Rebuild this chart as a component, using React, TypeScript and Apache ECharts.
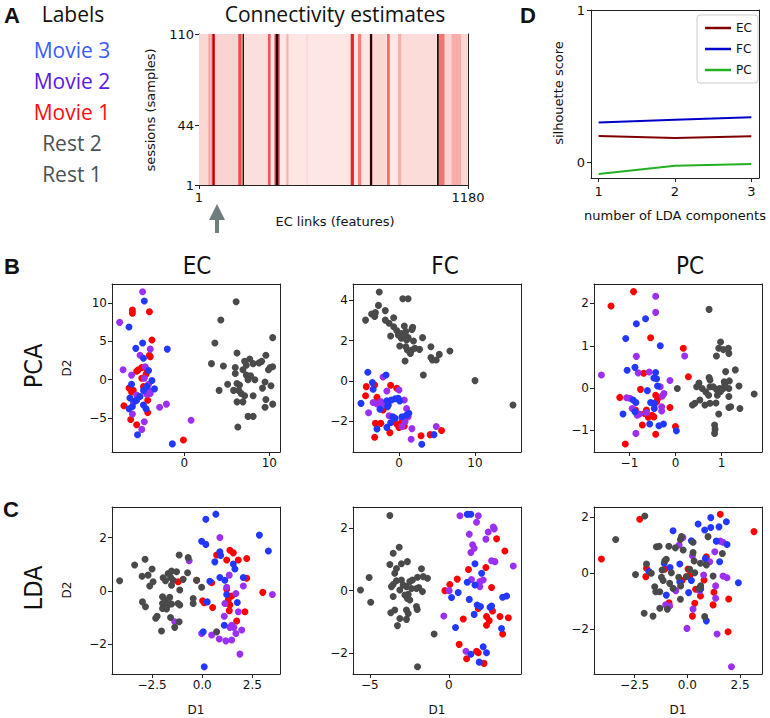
import React, { useEffect, useRef } from 'react';
import * as echarts from 'echarts';

// ---------- Panel A: connectivity estimates (column bands: [startFeature, endFeature, level]) ----------
const featureTicks = [1, 1180];
const sessionTicks = [1, 44, 110];
const ecBands: number[][] = [
  [1, 1180, 0.09],
  [1, 42, 0.18],
  [42, 52, 0.34],
  [56, 72, 0.55],
  [63, 68, 0.85],
  [72, 173, 0.2],
  [173, 188, 0.52],
  [192, 198, 1.0],
  [199, 300, 0.13],
  [303, 315, 0.5],
  [332, 337, 0.58],
  [337, 350, 1.0],
  [350, 354, 0.58],
  [384, 393, 0.3],
  [470, 480, 0.16],
  [666, 680, 0.6],
  [698, 712, 0.42],
  [750, 761, 1.0],
  [762, 820, 0.18],
  [825, 837, 0.46],
  [873, 888, 0.3],
  [890, 1040, 0.15],
  [1044, 1052, 1.0],
  [1053, 1078, 0.44],
  [1078, 1105, 0.2],
  [1107, 1151, 0.3],
  [1151, 1180, 0.17],
];
const labelNames = ['Movie 3', 'Movie 2', 'Movie 1', 'Rest 2', 'Rest 1'];

// ---------- Panel D: silhouette scores ----------
const ldaComponents = [1, 2, 3];
const silhouetteEC = [0.175, 0.162, 0.173];
const silhouetteFC = [0.263, 0.281, 0.298];
const silhouettePC = [-0.074, -0.02, -0.009];

// ---------- Panel B: PCA ----------
const pcaEC_rest = [[6.1,10.2],[4.3,7.8],[3.6,4.8],[6.2,3.5],[3.2,2.1],[4.6,1.8],[6.0,1.6],[7.1,2.4],[7.7,2.7],[7.3,1.9],[8.1,2.1],[8.8,2.2],[6.0,0.8],[6.9,1.3],[7.3,0.6],[7.8,0.5],[8.3,0.0],[5.1,-0.6],[6.2,-0.5],[6.5,-0.7],[4.1,-1.4],[5.8,-1.4],[6.4,-1.4],[6.7,-1.8],[7.1,-2.1],[8.1,-2.1],[6.2,-2.9],[6.9,-2.9],[7.5,-4.8],[8.1,-4.8],[6.3,-6.2],[10.4,5.5],[9.6,3.2],[9.1,2.4],[10.1,1.6],[10.4,1.7],[9.9,1.3],[9.5,-0.3],[9.2,-1.1],[10.2,-0.8],[9.6,-2.6],[9.5,-3.6],[10.4,-3.2],[7.5,0.0]];
const pcaEC_movie1 = [[-6.1,9.1],[-6.1,8.7],[-4.1,8.9],[-3.8,5.2],[-4.1,3.2],[-4.0,3.0],[-5.6,1.1],[-5.0,1.6],[-4.5,0.7],[-5.0,0.2],[-6.5,-1.1],[-6.2,-1.6],[-4.3,-2.7],[-7.1,-3.4],[-4.3,-4.3],[-6.3,-5.2],[-5.6,-5.9],[-0.1,-7.9],[-4.8,-0.9],[-5.4,1.3],[-4.4,1.3],[-6.0,-1.4]];
const pcaEC_movie2 = [[-4.9,11.5],[-7.6,7.5],[-4.0,4.0],[-5.2,3.2],[-7.2,1.3],[-6.2,0.6],[-4.7,0.2],[-4.2,-0.6],[-5.6,-2.0],[-4.4,-1.9],[-4.0,-1.8],[-2.9,-3.6],[-2.1,-3.2],[-6.1,-4.5],[-4.7,-5.5],[-5.0,-6.5],[0.8,-5.3],[-4.6,1.7],[-6.0,-2.9],[-4.2,-1.4]];
const pcaEC_movie3 = [[-4.7,10.3],[-6.5,6.9],[-4.9,4.8],[-5.7,4.1],[-4.8,2.8],[-2.0,4.0],[-4.2,1.2],[-3.8,-0.1],[-6.2,-0.6],[-3.5,-1.2],[-4.8,-1.4],[-6.4,-2.4],[-5.2,-2.2],[-5.8,-2.8],[-6.1,-3.5],[-6.5,-3.8],[-4.8,-3.3],[-4.5,-3.8],[-5.5,-7.2],[-1.4,-8.4],[-5.6,-2.7],[-4.4,-0.9]];

const pcaFC_rest = [[-2.6,4.41],[0.5,4.08],[1.2,4.08],[-4.4,3.02],[-3.6,3.32],[-3.1,3.39],[-2.7,3.75],[-3.2,3.2],[-1.8,3.49],[-1.8,3.02],[-1.3,2.86],[-0.7,3.14],[-0.7,2.69],[-1.1,2.23],[-0.3,2.5],[-0.1,2.28],[0.3,2.36],[0.7,2.73],[0.9,2.45],[0.3,2.12],[0.1,1.74],[1.0,2.03],[1.2,2.15],[1.7,2.56],[1.8,2.66],[1.9,1.98],[0.9,1.7],[1.1,1.54],[1.7,1.54],[2.1,1.62],[2.7,1.57],[3.1,2.15],[4.2,1.7],[4.2,1.17],[4.4,1.04],[4.9,1.04],[5.3,1.32],[6.7,1.49],[0.8,0.99],[3.2,0.3],[10.0,0.02],[1.5,1.37],[15.0,-1.19],[0.6,2.2]];
const pcaFC_movie1 = [[-4.3,-0.28],[-3.2,-0.2],[-4.4,-0.73],[-2.9,-0.81],[-1.1,-0.21],[-0.3,-0.36],[-2.1,-1.44],[-1.6,-1.24],[-3.1,-2.1],[-2.4,-2.1],[-1.2,-2.56],[-0.3,-2.13],[0.0,-2.3],[0.7,-2.23],[-3.2,-2.79],[2.9,-2.71],[4.1,-2.66],[5.6,-2.45],[-2.4,-1.14],[-0.7,-2.0],[-2.0,-1.35],[0.4,-2.0]];
const pcaFC_movie2 = [[-2.1,0.2],[-1.6,-0.5],[0.0,-0.45],[-3.4,-1.07],[-2.9,-1.14],[-2.4,-1.02],[-4.0,-1.57],[0.7,-0.94],[1.0,-1.36],[1.2,-1.77],[-1.3,-1.72],[0.4,-2.26],[1.7,-2.36],[1.6,-2.89],[4.9,-2.26],[-2.1,-1.19],[0.8,-2.02]];
const pcaFC_movie3 = [[-4.1,0.43],[-1.7,0.3],[-3.5,-0.08],[-3.4,-0.41],[-5.0,-1.11],[-1.6,-0.98],[-1.4,-1.19],[-1.0,-0.94],[-0.5,-0.88],[-0.1,-0.86],[0.1,-0.99],[-2.5,-1.4],[-1.5,-1.27],[-0.8,-1.77],[-0.5,-1.85],[-1.1,-2.07],[0.4,-1.77],[1.0,-1.69],[1.3,-1.6],[-1.6,-2.3],[-2.9,-2.38],[3.0,-3.14],[4.6,-2.66]];

const pcaPC_rest = [[0.73,1.86],[0.98,1.09],[0.94,0.94],[1.04,0.91],[1.15,0.94],[1.16,0.82],[0.89,0.76],[1.3,0.43],[1.09,0.39],[1.17,0.17],[1.06,0.15],[0.73,0.25],[0.75,0.19],[0.51,0.12],[0.58,-0.01],[0.66,-0.09],[0.72,-0.17],[0.82,0.03],[0.89,-0.03],[0.96,-0.01],[0.98,-0.08],[0.91,-0.17],[1.16,-0.01],[1.16,-0.2],[1.38,0.05],[1.71,-0.14],[0.42,-0.36],[0.37,-0.4],[0.64,-0.4],[0.75,-0.36],[0.88,-0.35],[1.16,-0.46],[1.2,-0.44],[1.4,-0.48],[0.94,-0.61],[0.85,-0.87],[0.86,-0.97],[0.85,-1.07],[0.04,-0.01],[0.46,0.03],[1.04,-0.01],[0.75,0.03],[1.07,0.07],[0.53,-0.28]];
const pcaPC_movie1 = [[-0.91,2.28],[-1.4,1.94],[-0.54,1.19],[0.17,0.94],[0.28,0.27],[-0.69,0.35],[-0.76,-0.03],[-1.21,-0.22],[-0.43,-0.17],[-0.41,-0.32],[-0.87,-0.52],[-0.63,-0.52],[-0.59,-0.69],[-0.51,-0.64],[-0.72,-0.87],[-0.12,-0.46],[0.0,-0.91],[-0.43,-1.09],[-1.09,-1.32],[-0.47,-0.68],[-0.38,-0.24],[-0.67,-0.6]];
const pcaPC_movie2 = [[-0.43,2.17],[-0.43,1.79],[-0.85,0.75],[0.2,0.76],[-1.61,0.31],[-0.81,0.36],[-0.57,0.38],[-0.12,0.18],[-0.33,0.03],[-0.25,-0.13],[-0.29,-0.19],[-1.06,-0.23],[-0.99,-0.24],[-0.94,-0.48],[-0.83,-0.64],[-0.78,-0.61],[-0.46,-0.39],[-0.3,-0.44],[-0.3,-0.54],[-0.86,-1.07],[-0.63,-0.58]];
const pcaPC_movie3 = [[-0.85,1.52],[-0.65,1.64],[-1.08,1.17],[-0.33,1.0],[-0.88,0.49],[-1.05,0.42],[-0.43,0.37],[-0.47,0.24],[-0.41,0.22],[-0.39,0.05],[-0.61,-0.06],[-0.92,-0.28],[-0.86,-0.34],[-0.54,-0.34],[-0.46,-0.48],[-0.46,-0.36],[-1.14,-0.61],[-0.56,-0.85],[-0.36,-0.89],[-0.26,-0.85],[0.02,-1.01],[-0.88,-0.56]];

// ---------- Panel C: LDA ----------
const ldaEC_rest = [[-4.12,0.38],[-3.37,0.97],[-2.85,1.19],[-3.0,0.55],[-2.7,0.59],[-2.5,0.82],[-2.45,0.34],[-2.62,0.18],[-2.98,-0.42],[-2.83,-0.6],[-1.95,0.49],[-1.83,0.38],[-1.7,0.65],[-1.53,0.74],[-1.28,0.72],[-1.57,0.5],[-1.53,0.21],[-1.45,0.4],[-1.15,1.35],[-0.7,1.25],[-0.95,0.43],[-0.73,0.68],[-0.28,0.4],[-0.03,0.13],[-1.98,-0.23],[-1.62,-0.25],[-1.98,-0.48],[-1.7,-0.54],[-1.53,-0.5],[-1.98,-0.67],[-1.78,-0.69],[-1.2,-0.48],[-1.12,-0.54],[-0.45,-0.29],[-0.45,-0.48],[-2.25,-0.96],[-2.32,-1.04],[-1.58,-1.01],[-1.15,-1.17],[-1.37,-1.38],[-2.03,-1.52],[0.72,-1.55],[-1.12,0.03],[-1.78,-0.35]];
const ldaEC_movie1 = [[0.72,1.35],[1.38,1.53],[1.55,1.43],[1.22,1.16],[1.8,1.16],[2.22,1.22],[2.22,0.47],[-1.2,0.34],[-0.28,0.4],[0.47,0.3],[0.02,-0.38],[0.1,-0.45],[0.52,-0.63],[1.22,0.06],[1.3,-0.35],[1.38,-0.54],[1.35,-0.75],[2.13,-0.79],[1.72,-1.14],[3.02,-0.06],[1.47,-0.2]];
const ldaEC_movie2 = [[-0.65,1.13],[-1.37,-1.17],[0.88,2.01],[1.35,0.59],[1.22,0.13],[1.68,-0.1],[2.05,0.18],[1.13,-0.48],[1.8,-0.79],[1.1,-0.96],[1.47,-1.3],[1.58,-1.38],[1.38,-1.38],[1.97,-1.48],[1.68,-1.61],[-0.03,-1.61],[0.47,-1.67],[0.85,-1.82],[1.18,-1.89],[1.47,-1.86],[1.88,-2.39],[3.5,-0.14]];
const ldaEC_movie3 = [[0.18,2.7],[0.68,2.89],[2.85,2.1],[3.3,1.5],[-0.03,1.87],[0.18,1.75],[0.88,1.47],[0.92,1.33],[0.63,1.09],[1.55,1.01],[1.63,0.82],[0.88,0.5],[1.13,0.4],[2.05,0.5],[0.38,0.36],[1.22,-0.14],[1.75,-0.44],[1.1,-1.3],[0.05,-1.55],[0.1,-2.87],[0.25,-0.42]];

const ldaFC_rest = [[-5.59,0.02],[-5.04,0.42],[-4.94,-0.37],[-3.73,2.41],[-3.52,1.2],[-3.14,1.39],[-3.73,0.84],[-3.42,0.56],[-3.0,0.86],[-2.62,0.93],[-1.73,0.7],[-1.35,0.4],[-1.62,0.45],[-3.63,0.13],[-3.52,0.2],[-3.31,0.32],[-3.0,0.34],[-2.68,0.13],[-2.47,0.29],[-2.3,0.34],[-1.98,0.43],[-1.9,0.1],[-1.67,-0.03],[-3.52,-0.19],[-2.78,-0.14],[-2.57,-0.12],[-2.62,-0.25],[-2.05,-0.51],[-2.0,-0.6],[-3.42,-0.62],[-3.67,-0.71],[-2.68,-0.62],[-2.57,-0.73],[-3.1,-0.89],[-2.68,-0.92],[-3.25,-1.12],[-0.93,-1.39],[-1.98,-2.44],[-2.36,0.07],[-3.1,0.02],[-2.89,0.18],[-2.05,0.07],[-3.31,0.71],[-2.47,-0.3]];
const ldaFC_movie1 = [[3.02,1.66],[3.54,1.27],[2.34,0.74],[1.24,0.68],[0.53,0.37],[0.06,0.2],[-0.25,0.0],[2.7,0.1],[1.86,-0.57],[0.91,-0.91],[2.38,-0.83],[3.23,-0.83],[3.76,-0.87],[2.55,-0.96],[2.38,-1.11],[3.4,-1.39],[0.65,-1.72],[1.75,-1.94],[1.86,-1.99],[1.12,-2.18],[2.22,-2.33],[2.76,-0.65]];
const ldaFC_movie2 = [[0.7,2.4],[1.22,2.45],[1.86,2.4],[1.75,2.19],[1.29,1.81],[2.49,1.88],[2.81,2.04],[2.87,1.98],[2.34,1.65],[1.5,1.47],[1.6,1.36],[1.39,1.22],[2.7,0.96],[2.91,0.93],[4.07,0.79],[1.43,0.36],[1.96,0.29],[2.17,0.34],[1.96,0.13],[0.02,0.0],[-0.32,-0.81],[1.08,-1.94]];
const ldaFC_movie3 = [[1.16,2.45],[1.39,2.45],[1.65,0.86],[2.07,0.56],[1.65,0.18],[1.16,0.27],[0.59,-0.06],[0.17,-0.22],[1.29,-0.28],[1.79,-0.46],[2.0,-0.51],[2.7,-0.49],[2.6,-0.53],[1.6,-0.76],[3.4,-0.21],[3.65,-0.17],[0.42,-1.18],[3.33,-1.21],[2.17,-1.8],[2.38,-1.99],[1.39,-2.04],[1.92,-2.29]];

const ldaPC_rest = [[-2.02,2.04],[-3.4,1.2],[-2.46,-0.05],[-1.94,0.32],[-1.47,0.94],[-1.34,0.96],[-0.88,0.96],[-0.57,0.9],[-0.28,1.3],[-0.33,1.2],[0.27,1.1],[0.98,1.3],[1.66,0.7],[0.27,0.73],[0.32,0.43],[0.62,0.35],[0.9,0.29],[-1.07,0.44],[-1.0,0.49],[-1.2,0.11],[-1.71,-0.01],[-1.23,-0.15],[-1.15,-0.27],[-0.76,0.01],[-0.41,-0.15],[-0.84,-0.37],[-0.68,-0.55],[-0.32,-0.46],[0.11,0.13],[0.35,0.01],[0.63,-0.46],[0.55,-0.55],[1.22,-0.11],[-1.55,-0.49],[-1.5,-0.67],[-1.31,-0.67],[-1.31,-1.26],[-2.05,-1.44],[-1.63,-1.54],[-0.95,-1.29],[-0.33,-0.94],[0.82,-1.56],[-0.05,-0.13],[-0.2,0.82]];
const ldaPC_movie1 = [[-4.08,0.5],[-2.26,1.92],[1.56,2.1],[3.16,1.48],[-1.94,0.17],[-1.97,-0.13],[-0.25,-0.27],[0.03,0.14],[0.11,-0.1],[0.9,0.58],[0.93,0.4],[0.79,-0.25],[0.39,-0.58],[0.62,-0.82],[0.35,-1.08],[0.24,-1.54],[1.26,-0.69],[1.22,-1.14],[1.96,-0.93],[1.93,-2.1],[-0.87,-1.06],[-1.07,0.14]];
const ldaPC_movie2 = [[-0.21,1.27],[-0.39,1.0],[0.24,0.62],[1.06,0.4],[1.3,0.76],[1.56,1.14],[1.69,1.1],[0.77,-0.07],[1.69,-0.11],[1.88,-0.17],[-0.55,-0.63],[-0.84,-1.18],[-1.03,-1.14],[0.27,-1.29],[1.34,-0.46],[1.34,-0.9],[-0.02,-1.98],[1.41,-2.18],[2.09,-3.35],[0.58,-0.63]];
const ldaPC_movie3 = [[-1.82,0.05],[-0.82,0.2],[-0.68,1.51],[0.19,1.15],[-0.36,0.32],[-0.36,-0.31],[0.19,-0.27],[0.06,-0.7],[-1.0,-0.79],[0.51,1.75],[0.82,1.54],[1.11,1.98],[1.11,1.63],[1.5,1.65],[1.85,1.83],[1.88,1.02],[1.37,1.14],[1.53,0.4],[0.85,0.52],[2.42,-0.35],[0.63,-0.57],[0.9,-1.71],[-1.1,0.35]];

// ---------- styling ----------
const C_REST = '#4a4a4a';
const C_M1 = '#ff0000';
const C_M2 = '#9b30f2';
const C_M3 = '#2238ff';
const LABEL_COLORS = ['#3a5cff', '#5a1ae0', '#ff0d0d', '#4a5252', '#4a5252'];
const FRAME = '#222';
const TICK_FONT = 'DejaVu Sans';
const SANS = '"Open Sans", "Noto Sans", sans-serif';
const NARROW = '"Liberation Sans Narrow", "DejaVu Sans Condensed", "Open Sans", sans-serif';

const minus = (s: string) => s.replace('-', '\u2212');

function valueAxis(gridIndex: number, min: number, max: number, ticks: number[], decimals = 0, fontSize = 12, margin = 5, position?: string) {
  const hidden = !!position && (position === 'top' || position === 'right');
  return {
    type: 'value',
    gridIndex,
    min,
    max,
    position,
    splitLine: { show: false },
    axisLine: { show: true, onZero: false, lineStyle: { color: FRAME, width: 1 } },
    axisTick: hidden
      ? { show: false }
      : { show: true, length: 4, inside: false, lineStyle: { color: FRAME, width: 1 }, customValues: ticks },
    axisLabel: hidden
      ? { show: false }
      : {
          customValues: ticks,
          formatter: (v: number) => minus(Number(v).toFixed(decimals)),
          fontSize,
          color: '#111',
          fontFamily: TICK_FONT,
          margin,
        },
  };
}

type ScatterPanel = {
  left: number; top: number; h: number;
  x: [number, number, number[], number];
  y: [number, number, number[]];
  groups: number[][][]; // [movie1, movie2, movie3, rest]
};

const scatterPanels: ScatterPanel[] = [
  { left: 112, top: 284, h: 168, x: [-8.5, 11.26, [0, 10], 0], y: [-9.46, 12.52, [-5, 0, 5, 10]], groups: [pcaEC_movie1, pcaEC_movie2, pcaEC_movie3, pcaEC_rest] },
  { left: 353, top: 284, h: 168, x: [-6.05, 16.05, [0, 10], 0], y: [-3.52, 4.81, [-2, 0, 2, 4]], groups: [pcaFC_movie1, pcaFC_movie2, pcaFC_movie3, pcaFC_rest] },
  { left: 594, top: 284, h: 168, x: [-1.77, 1.88, [-1, 0, 1], 0], y: [-1.51, 2.46, [-1, 0, 1, 2]], groups: [pcaPC_movie1, pcaPC_movie2, pcaPC_movie3, pcaPC_rest] },
  { left: 112, top: 507, h: 167, x: [-4.5, 3.88, [-2.5, 0, 2.5], 1], y: [-3.14, 3.16, [-2, 0, 2]], groups: [ldaEC_movie1, ldaEC_movie2, ldaEC_movie3, ldaEC_rest] },
  { left: 353, top: 507, h: 167, x: [-6.06, 4.56, [-5, 0], 0], y: [-2.67, 2.68, [-2, 0, 2]], groups: [ldaFC_movie1, ldaFC_movie2, ldaFC_movie3, ldaFC_rest] },
  { left: 594, top: 507, h: 167, x: [-4.43, 3.54, [-2.5, 0, 2.5], 1], y: [-3.61, 2.36, [-2, 0, 2]], groups: [ldaPC_movie1, ldaPC_movie2, ldaPC_movie3, ldaPC_rest] },
];

function buildOption() {
  const grids: any[] = [
    { left: 199, top: 34, width: 269, height: 151 },
    { left: 591, top: 10, width: 168, height: 168 },
  ];
  const xAxes: any[] = [];
  const yAxes: any[] = [];
  // each grid gets a bottom/left axis with ticks and a top/right axis that only closes the frame
  const addAxes = (gi: number, x: [number, number, number[], number, number, number], y: [number, number, number[], number, number, number]) => {
    xAxes.push(valueAxis(gi, x[0], x[1], x[2], x[3], x[4], x[5], 'bottom'));
    xAxes.push(valueAxis(gi, x[0], x[1], x[2], x[3], x[4], x[5], 'top'));
    yAxes.push(valueAxis(gi, y[0], y[1], y[2], y[3], y[4], y[5], 'left'));
    yAxes.push(valueAxis(gi, y[0], y[1], y[2], y[3], y[4], y[5], 'right'));
  };
  addAxes(0, [1, 1180, featureTicks, 0, 13, 6], [1, 110, sessionTicks, 0, 13, 5]);
  addAxes(1, [0.9, 3.1, ldaComponents, 0, 13, 7], [-0.1, 1, [0, 1], 0, 13, 6]);

  const series: any[] = [
    {
      type: 'custom',
      xAxisIndex: 0,
      yAxisIndex: 0,
      data: ecBands,
      encode: { x: [0, 1], y: 2 },
      clip: true,
      z: 1,
      renderItem: (params: any, api: any) => {
        const p0 = api.coord([api.value(0), 110]);
        const p1 = api.coord([api.value(1), 1]);
        return {
          type: 'rect',
          shape: { x: p0[0], y: p0[1], width: Math.max(1, p1[0] - p0[0]), height: p1[1] - p0[1] },
          style: { fill: api.visual('color') },
        };
      },
    },
    { name: 'EC', type: 'line', xAxisIndex: 2, yAxisIndex: 2, symbol: 'none', data: ldaComponents.map((c, i) => [c, silhouetteEC[i]]), lineStyle: { color: '#800000', width: 2 }, itemStyle: { color: '#800000' } },
    { name: 'FC', type: 'line', xAxisIndex: 2, yAxisIndex: 2, symbol: 'none', data: ldaComponents.map((c, i) => [c, silhouetteFC[i]]), lineStyle: { color: '#0000cc', width: 2 }, itemStyle: { color: '#0000cc' } },
    { name: 'PC', type: 'line', xAxisIndex: 2, yAxisIndex: 2, symbol: 'none', data: ldaComponents.map((c, i) => [c, silhouettePC[i]]), lineStyle: { color: '#22b022', width: 2 }, itemStyle: { color: '#22b022' } },
  ];
  const colors = [C_M1, C_M2, C_M3, C_REST];
  scatterPanels.forEach((p, k) => {
    const gi = k + 2;
    grids.push({ left: p.left, top: p.top, width: 168, height: p.h });
    addAxes(gi, [p.x[0], p.x[1], p.x[2], p.x[3], 12, 5], [p.y[0], p.y[1], p.y[2], 0, 12, 5]);
    p.groups.forEach((g, j) => {
      series.push({
        type: 'scatter', xAxisIndex: gi * 2, yAxisIndex: gi * 2, data: g, symbolSize: 7,
        itemStyle: { color: colors[j], opacity: 1 }, clip: true,
      });
    });
  });

  const txt = (text: string, x: number, y: number, font: string, fill = '#111', rotation = 0) => ({
    type: 'text', x, y, rotation, z: 20,
    style: { text, font, fill, align: 'center', verticalAlign: 'middle' },
  });
  const graphic: any[] = [
    txt('A', 12, 15, 'bold 22px "Liberation Sans", sans-serif'),
    txt('Labels', 73, 14, `21px ${SANS}`),
    ...labelNames.map((n, i) => txt(n, 72, 50 + i * 31, `21px ${SANS}`, LABEL_COLORS[i])),
    txt('Connectivity estimates', 335, 14, `21px ${SANS}`),
    txt('sessions (samples)', 150, 110, `13px ${TICK_FONT}`, '#111', Math.PI / 2),
    txt('EC links (features)', 335, 221, `13px ${TICK_FONT}`),
    {
      type: 'polygon', z: 20,
      shape: { points: [[217, 204], [209, 220], [215, 220], [215, 233], [219, 233], [219, 220], [225, 220]] },
      style: { fill: '#6f7d7d' },
    },
    txt('D', 528, 15, 'bold 22px "Liberation Sans", sans-serif'),
    txt('silhouette score', 558, 93, `13px ${TICK_FONT}`, '#111', Math.PI / 2),
    txt('number of LDA components', 675, 215, `13px ${TICK_FONT}`),
    txt('B', 12, 266, 'bold 22px "Liberation Sans", sans-serif'),
    txt('C', 11, 509, 'bold 22px "Liberation Sans", sans-serif'),
    txt('EC', 197, 266, `24px ${NARROW}`),
    txt('FC', 445, 266, `24px ${NARROW}`),
    txt('PC', 690, 266, `24px ${NARROW}`),
    txt('PCA', 33, 366, `25px ${NARROW}`, '#111', Math.PI / 2),
    txt('LDA', 33, 588, `25px ${NARROW}`, '#111', Math.PI / 2),
    txt('D2', 67, 368, `12px ${TICK_FONT}`, '#111', Math.PI / 2),
    txt('D2', 67, 590, `12px ${TICK_FONT}`, '#111', Math.PI / 2),
    txt('D1', 196, 710, `12px ${TICK_FONT}`),
    txt('D1', 437, 710, `12px ${TICK_FONT}`),
    txt('D1', 678, 710, `12px ${TICK_FONT}`),
  ];

  return {
    animation: false,
    backgroundColor: '#fff',
    grid: grids,
    xAxis: xAxes,
    yAxis: yAxes,
    visualMap: {
      show: false,
      seriesIndex: 0,
      dimension: 2,
      min: 0,
      max: 1,
      inRange: { color: ['#fff6f4', '#fbd3d0', '#f58a86', '#e82326', '#a00a0a', '#300000'] },
    },
    legend: {
      data: ['EC', 'FC', 'PC'],
      orient: 'vertical',
      left: 697,
      top: 15,
      icon: 'rect',
      itemWidth: 26,
      itemHeight: 2.5,
      itemGap: 9,
      padding: [7, 6, 7, 8],
      borderColor: '#cccccc',
      borderWidth: 1,
      borderRadius: 3,
      backgroundColor: '#ffffff',
      textStyle: { fontSize: 12, fontFamily: TICK_FONT, color: '#111' },
    },
    series,
    graphic,
  };
}

export default function App() {
  const ref = useRef<HTMLDivElement>(null);
  useEffect(() => {
    document.body.style.margin = '0';
    const chart = echarts.init(ref.current as HTMLDivElement, null, { renderer: 'svg' });
    chart.setOption(buildOption() as any);
    return () => chart.dispose();
  }, []);
  return <div ref={ref} style={{ width: 770, height: 718 }} />;
}
